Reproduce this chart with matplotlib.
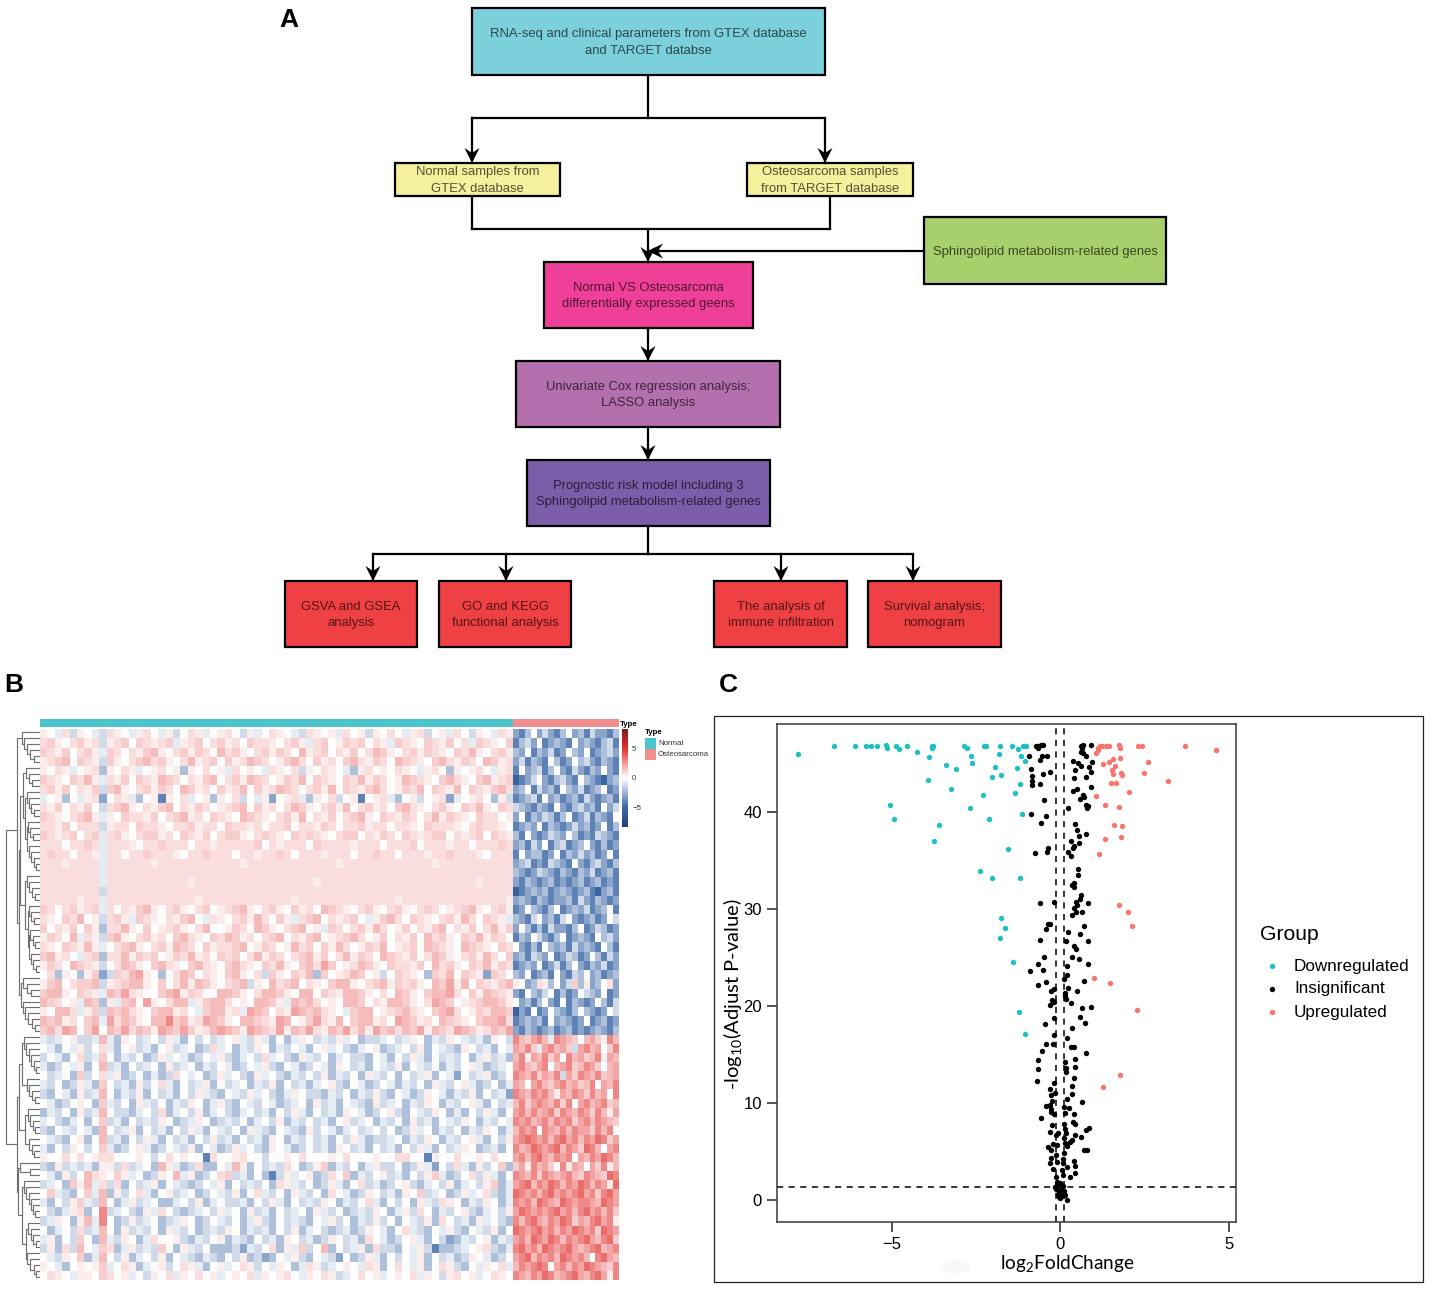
import matplotlib
matplotlib.use("Agg")
import matplotlib.pyplot as plt
import numpy as np
from matplotlib.colors import LinearSegmentedColormap, ListedColormap, Normalize
from matplotlib.patches import Rectangle, Ellipse

plt.rcParams['font.family'] = ['Liberation Sans', 'DejaVu Sans']
plt.rcParams['mathtext.default'] = 'regular'

W, H = 1430, 1289

# flowchart text
top_text = "RNA-seq and clinical parameters from GTEX database\nand TARGET databse"
normal_text = "Normal samples from\nGTEX database"
osteo_text = "Osteosarcoma samples\nfrom TARGET database"
sphingo_text = "Sphingolipid metabolism-related genes"
deg_text = "Normal VS Osteosarcoma\ndifferentially expressed geens"
cox_text = "Univariate Cox regression analysis;\nLASSO analysis"
model_text = "Prognostic risk model including 3\nSphingolipid metabolism-related genes"
gsva_text = "GSVA and GSEA\nanalysis"
go_text = "GO and KEGG\nfunctional analysis"
immune_text = "The analysis of\nimmune infiltration"
surv_text = "Survival analysis;\nnomogram"

# heatmap, each letter is one estimated block of the picture
heat_codes = "abcdefghijklmn"
heat_values = [-5.5, -4.2, -3, -2.1, -1.2, -0.6, 0, 0.4, 0.8, 1.2, 1.7, 2.2, 2.9, 3.6]

normal_rows = [
    "hgfiehgf eihgfhig fhegihfg higehfgi hgfeihgh fighehgi gfhieghf igehgfih",
    "ijhgijhi ehijgjih ijfhijgi jhigjiih gijhfijg hjijgihf jihgjihj gifjihgj",
    "jihjgijh fjigihjk hgijhjig kijhgijh jigkhijg ihjgikjh gijhjihg jikhgijh",
    "hijkgjih ejhgijki jhgikhij gjhikjig hjkigjhi gjkihjig kjihgjki hjigkjhi",
    "hgihfghi dhgihfgh ighdhgig hfighgfi hgiehgih gfdhighg ihgfhigd hghigfhi",
    "jihgjikh fihjgjih kjigihjk gijhkjig hjikgjih gjikhjig hkjihgjk ihgjkhij",
    "ijhjgihj ejkhgijh jigkjhig jhikgjhi kjigijhk gjihjkig hjikgjih kgjihjki",
    "fghdgfhi cgihfdgh bhgifghd hgiegfhc ghifdhgi eghbghif dgheghic fghigdhe",
    "ihjgihjg eijkhgih jkgihjig hijkgjhi gikjhgij hkgijhig jkihgijh gjikhgji",
    "jihgijkh fhgjiihj gijkhigj ihgkjihg ijhkgihj gijkhgji hjigikhj ihgjiigh",
    "iihjgiii ehiigjii hgiijhii gjiihigi ijgiihji giijhiig iihgjiii hgijiihg",
    "jihijgij fijhgijj higjihjg ijjhgiji hgjijihg ijjgihji gjihijjg ihijgjih",
    "iiigiiji fiiihgii jiiigiih iiiiijgi hiiigjii iihiiigi iijgiiih iigiiiji",
    "ijiigiih fiigiiji iihgiiji iigiihii jigiiihi iigiijii giiihiij iiihgiii",
    "iiihiiii fiiiiiih iiiiiiii iiihiiii iiiiiiii hiiiiiii iiiiihii iiiiiiii",
    "iiiiiiii fiiiiiii iiiiiiii iiiiiiii iiiiiiii iiiiiiii iiiiiiii iiiiiiii",
    "iiiiiiii fiiiiiii iiiihiii iiiiiiii iiiiihii iiiiiiii iiiiiiii iiihiiii",
    "iiiiiiii eiiiiiii iiiiiiii iiiiiiii iiiiiiii iiiiiiii iiiiiiii iiiiiiii",
    "iiiiihii fiiiiiii iiiiihii iiiiiiii iihiiiii iiiiiiii hiiiiiii iiiiiiih",
    "jigijhij figihjkh gijhgijg hijkhgij hgjhigkj ihgijhgi jhgijigh ijkhgijh",
    "ihgjikgh eijhfjih gihjkgfi hgijhkig jhfijkgi hijgfhjk igjihgij hkigjihf",
    "jgihjgjh diikhgjg hijhgikg ghjigkjh gijkghfj igijhkig hjgihjkg ihjgikhj",
    "hjigkfih ejkhgijh igjkihgj ikjhigij kgihjkgh ijkighjg ihjgkijh gjikhjig",
    "ihgjihkh fgijkhgi jhkjigjh iijkghji ghkijgjh kighjikg hijgkjih gkjihgji",
    "jkhigfij diikhjij ghjikhig jijgikhj igijkhjg ikhjigkj ihjgikjh gijhkigj",
    "hjigkjih egikjhgj kihgjkih gjkihgji khgjkilj ghikjhgj iihjgkij hgjikhji",
    "gidhgdhj cejiklhg dgikjgih gjkhgiej hgjikdjg hikjgheg jihgdjik gjihcjig",
    "hjkgijjk ehijkkhg jgikhkjh gijkehgk ijkgihgj kkhgijkh jijhgkjl hkgjihjk",
    "jkkhgjih fkjlihgg jklhjigg kkjhgikk jhgkkgji hkkjhgig kjhgjkkl igjhkjih",
    "kjighfkj dhfjkglh gikkfhjk kighgkkj hfkjkigh gkkjgihk kjhgilkj ghijkkjh",
    "hgkkifhj ekjkihgj kkhigfjk khiflkjg ihlkjkih gfjkkghi jkihgjkl ighjikkj",
    "kjkhigjk flikjhgk kmjkhilk jhgkkjih lkghjlih kgjkkhig lkjhigkj ihgjkkli",
    "jkilkgjl gkjlikjh lkjljhik lkjhlkji lhkjlihk jlikhljk ikjlhkji lkjhikjl",
    "fefgheef kfdhgefg ehfdgege fghfehfd gdfhgefe hfgdeefg efhgdfeh gfefdhge",
    "gfdgfheg ifdghefd ghefgdei fgdfehgd fegfdghf gedfghde fgehdgfe dhgefdgf",
    "egfdgief jgdfegde hfgfdegf hedfgeif gedhfegd fgeedgfd gehfdgef egdfhefd",
    "fdegfhdg kefdgefg dhefgdfe gfdegfhe dgfdegfd hgefdgfe hdgfegdf eghfdefg",
    "gefgdjeg ifhdegdf deigfgde hfgedhfg edfegehd fegdhfeg dgefhdgf cgefhdeg",
    "fegdehfd jgefdheg ifdgefhd gefgdfeh dgefdfgh edgfdegf dfegdhfe ghfdegdf",
    "edgfdhef kgdfehdg efdgehfe dgfehfge dfhgeedf egdfehed gfdehgfd fehdgefc",
    "gfdeghgd jfegdhfe gdfehgdf hedgfegf defgdhef dgfedhef gdfehgdf eghfdgef",
    "dfegdhef kgeedfge idfgehdf gedfgefd gehfdgef dhgfdegh edgfehgd fdgehfdg",
    "fgedfgdg jefdgefe hgdefhgd efegdfge hdfegefd ghefgdfe gdhefdgf ehgdfegf",
    "edgfegfd kgefhdge fdgehfdg fegdhfed gfedhegf dfgefgeg dehfgdfe gdfehgdf",
    "gfedghdg kefdgehf dgefdgeh efdgefdh gdfegefd gehfdeef gdfehgdf eghfdgeh",
    "fdgehgeg jfdeghfd egfehdgf dehfgedh gfdegefd hgefdgef dgehfdge fhgdefdg",
    "hggigigh iiggghge gighggbi gghiggeg ghgigggh giggghgg iiggbhgg igghgigg",
    "edhefefd hheiefgd khfdeidd gfkhdgef eigdehjd fegdfhee gdehfcge ifdhegjd",
    "gfdhegki hgjhfgde hgkfhdeg ijefdgdb ehfghdei gjdfeghe fdgehjfd egiehfdg",
    "efgdjhkf ieidgefh dgfedegf hdgefegd ihfegdeh fdgiefde ghedfgeh dfgehjdf",
    "gjfedgjf kdhegifd ghefgdeg fehdgife gdhfegdi gfdehgef dhgjefgd ehfgiedf",
    "fdgehjfe kgdfhefg ddfgehdf geefdgeh fdgefehg dfegifdg egdhfeih gdfehgdf",
    "gedfhidg mefgedhf igedefge hfgdhefd gefgdhfe gdefehgd fheigdfe ghedfgeh",
    "efhgdhkf mgdehefg defhgdeg fegdfhed gefedgfh egdfeheg dgfehdig efdhfged",
    "gdfgeief kgdhefeg dhfegdef ehgdfefd gehdfged efdehgfd gifedgfh edgfehdg",
    "fhdgejgd kfehgdfi gghedfeg hdfedgef dhgefdeh gefdigfd eghfdgec dfeghdfe",
    "ehdiekgf jidfhefe jgdhfegd ddecfegi dhfjegkd gefhdiee dgfhebdd efghiedf",
    "gfehgjdf kgehdfge hdgfedfe dgehdecd gfhedgfe cgdehfdg egfhdgef dehgfdeg",
    "hgfdghgh jfgihdfg hegihfdg hfgihegf hgdfihef ghgfihdg igfhdgih edgfhgif",
    "gihgfhhg jighfgeh gifhgigh fghgifhg higfhgih efgighfg hgifhgeh ighfgihg",
]

tumor_rows = [
    "cbdgce cbdgcd beccbd",
    "bdecgb cdcbgc dcbdeb",
    "dcgbdc ebcgdc gbcdec",
    "cebdcb gdbcgd ecbdcb",
    "bgcdeb dgcbec bdcgcb",
    "abcegc bdecbg dcbacd",
    "cdgbec dbgdce bcdgbc",
    "bcdebg cdbcdb ecbcdb",
    "edcbdc bgcbde cdbgce",
    "cgbdce dbdgbc ebdcbg",
    "bcdcgb dcbcec dbcgbd",
    "dbgcbc edcgdb cbedcb",
    "cdbecg bdebcd gcbdbc",
    "bgcddb cgbdce cdbcgb",
    "cdebcb edcbgc bdecbd",
    "dcbced cbdcbd cebcdb",
    "cbdcbc dbcbcd bcdbcb",
    "abcdcd bcdcbc dbacdb",
    "cdcbdc bccdbe cbdcbc",
    "bcgdcb dgbcdc ebcdgb",
    "dcbegc dbegcb cdbcge",
    "cgdbdb eccbdg bcedbc",
    "bdcgec bdgbcd cbgdec",
    "gcbdbg dcdbec dcbgdb",
    "cdbedc gbcedb cgdbec",
    "bcdcgb cebdgc bdcebc",
    "dcgbcd bgcbed gcdbcd",
    "hgcdih dgcejd hcdgic",
    "cbgdce gbdbcg edcgbc",
    "gcdbdg cbgbdc bcgdbe",
    "acbgbc gdcbdg dcbcge",
    "bcdcdb gcdcbc gbcdbc",
    "cbdcbc dbcdbc bcdcbd",
    "mkjlmk fmlkjg kljhmk",
    "lkmjfl mkljel mklgjm",
    "kmhlkm jlgmkl jkmhlk",
    "lmkjlm gklmjk mljgkl",
    "mlkmjl kmeljm lkmjkl",
    "lkglmk jlmklj kmglkm",
    "mlkmlm khlkml jmklgm",
    "kmjlml kmjmgl mklmjk",
    "lmkmkl mjmlkm ljmkhl",
    "mlmklm kmlmjl mkmlkj",
    "kmlmgm lkmkml ljmkmg",
    "lmnmlm kmnlmk mlnmjl",
    "mklnml mnkmlj nmkglm",
    "lmkmnl kmlmgl kmlnmk",
    "jlhmkl jgmhlk gljmhk",
    "mlkmjm lklmkj mlkjnm",
    "lmnkml nmkmln mkmlhn",
    "nmlmkm nlmlmn lmjmnl",
    "mlmknm lknmlm mlknml",
    "lnmlml mnlmkm nlmkmj",
    "mkmnlk mlnmjl kmnlmh",
    "nmlmnl mkmlnm lmjnml",
    "lmknml nmkmlm nlkmnj",
    "mnlmkn mlmnlk lmnklm",
    "lmnkml mknmlm kgmnlk",
    "kmlmnm glmkml nmlkjm",
    "mlkmln mklmnl kmnlhm",
]

type_names = ["Normal", "Osteosarcoma"]
type_colors = ["#4CC4CC", "#F28E8E"]
top_row_count = 33

# volcano plot
down_x = [-7.77, -6.72, -6.07, -5.76, -5.61, -5.42, -5.17, -5.14, -4.87, -4.79, -4.54, -4.25, -3.90, -3.81, -3.76,
          -3.79, -3.38, -3.08, -3.93, -3.24, -2.84, -2.77, -2.64, -2.61, -2.26, -2.20, -1.78, -1.82, -1.92, -2.03,
          -1.74, -2.29, -1.44, -1.24, -1.15, -1.03, -1.28, -1.18, -1.35, -1.09, -1.02, -5.06, -2.68, -1.13, -4.94,
          -2.12, -3.60, -3.73, -1.55, -2.37, -2.01, -1.18, -1.74, -1.63, -1.78, -1.39, -1.21, -1.04]
down_y = [45.99, 46.85, 46.85, 46.85, 46.85, 46.85, 46.92, 46.65, 46.89, 46.51, 46.85, 46.2, 45.68, 46.85, 46.89,
          46.61, 44.86, 44.44, 43.34, 42.45, 46.89, 46.68, 45.82, 45.06, 46.85, 46.85, 46.85, 46.06, 44.72, 43.69,
          43.86, 41.76, 46.85, 46.51, 45.82, 45.27, 44.58, 42.97, 41.97, 46.85, 46.85, 40.76, 40.42, 39.8, 39.28,
          39.28, 38.7, 37.01, 36.26, 33.95, 33.23, 33.23, 29.14, 28.07, 27.0, 24.6, 19.44, 17.17]

up_x = [1.06, 1.14, 1.17, 1.24, 1.12, 1.36, 1.46, 1.75, 1.77, 1.79, 2.32, 2.42, 3.72, 4.62, 1.27, 1.46, 1.58, 1.64,
        1.54, 1.58, 1.80, 1.83, 2.62, 2.48, 3.20, 1.50, 1.66, 2.05, 1.06, 1.33, 1.74, 1.59, 1.83, 1.34, 1.80, 1.16,
        1.74, 2.03, 2.13, 1.02, 1.48, 2.29, 1.79, 1.26]
up_y = [46.16, 46.44, 46.85, 46.85, 46.65, 46.85, 46.89, 46.92, 46.68, 45.65, 46.89, 46.85, 46.85, 46.47, 45.03,
        45.17, 45.51, 44.82, 44.41, 44.0, 44.03, 43.83, 45.17, 44.03, 43.27, 43.07, 43.07, 42.07, 41.69, 40.8, 40.56,
        38.67, 38.56, 37.29, 37.46, 35.74, 30.48, 29.69, 28.28, 22.91, 22.36, 19.64, 12.9, 11.63]

insig_x = [-0.72, -0.64, -0.57, -0.51, -0.64, -0.92, -0.55, -0.40, -0.59, -0.85, -0.29, -0.82, -0.52, -0.83, -0.84,
           -0.61, -0.49, -0.85, -0.41, -0.56, -0.37, -0.39, -0.73, -0.60, -0.19, -0.35, -0.29, -0.42, -0.60, -0.47,
           0.62, 0.69, 0.91, 0.64, 0.61, 0.67, 0.77, 0.37, 0.54, 0.62, 0.96, 0.87, 0.44, 0.91, 0.41, 0.78, 0.92, 0.38,
           0.50, 0.67, 0.70, 0.58, 0.77, 0.82, 0.81, 0.23, 0.44, 0.50, 0.56, 0.77, 0.31, 0.56, 0.42, 0.37, 0.25, 0.33,
           0.53, 0.53, 0.42, 0.34, 0.40, 0.61, 0.58, 0.82, 0.46, 0.51, 0.42, 0.46, 0.66, 0.36, 0.72, 0.25, 0.60, 0.17,
           0.84, 0.40, 0.46, 0.34, 0.55, 0.82, -0.66, 0.20, -0.51, -0.90, 0.22, 0.12, -0.42, 0.70, -0.64, 0.25, -0.18,
           -0.27, 0.49, 0.15, 0.14, -0.24, 0.17, -0.19, -0.30, 0.32, 0.66, 0.92, 0.59, -0.19, 0.74, -0.45, 0.35, -0.19,
           0.22, -0.41, -0.22, 0.33, 0.40, -0.54, 0.76, 0.43, -0.65, 0.16, 0.44, -0.66, 0.17, 0.19, 0.40, -0.67, -0.18,
           0.35, -0.29, -0.15, -0.27, 0.35, 0.22, -0.23, 0.64, -0.41, -0.30, 0.12, 0.27, -0.27, -0.28, -0.17, 0.15,
           0.40, -0.57, 0.38, 0.43, -0.23, 0.12, 0.86, 0.77, 0.15, -0.30, -0.07, 0.17, 0.45, -0.13, 0.61, 0.12, 0.35,
           0.28, 0.14, -0.20, -0.10, 0.22, -0.36, -0.27, 0.72, 0.79, 0.12, -0.12, -0.26, 0.08, 0.42, -0.29, -0.10, 0.08,
           0.43, 0.22, -0.22, 0.06, 0.44, 0.10, -0.13, 0.29, -0.08, -0.15, 0.0, -0.08, 0.08, -0.02, 0.10, 0.15, 0.0,
           0.21, 0.05, -0.05, 0.08, -0.10, 0.03, -0.03, 0.12, -0.12, 0.06, 0.02]
insig_y = [46.89, 46.89, 46.92, 46.92, 46.61, 45.82, 45.79, 45.85, 45.37, 44.51, 44.2, 43.79, 43.93, 43.24, 42.79,
           42.93, 41.25, 39.83, 39.66, 38.87, 36.29, 35.88, 35.81, 30.65, 30.75, 28.52, 28.45, 27.93, 26.87, 25.04,
           46.89, 46.92, 46.92, 46.61, 46.2, 46.1, 45.82, 45.3, 45.06, 44.79, 45.17, 44.72, 44.34, 44.2, 43.55, 43.62,
           42.66, 42.17, 42.38, 41.83, 41.55, 41.38, 40.76, 40.66, 40.42, 40.45, 38.84, 38.15, 37.56, 37.77, 37.08,
           36.88, 36.57, 36.36, 35.95, 35.47, 34.12, 33.54, 32.71, 32.51, 32.34, 31.44, 31.03, 30.65, 30.72, 30.44,
           30.1, 29.76, 29.76, 29.45, 28.31, 27.66, 27.45, 26.76, 26.69, 26.18, 25.87, 25.04, 24.87, 24.39, 24.39,
           24.18, 23.77, 23.6, 23.25, 22.81, 22.46, 22.6, 22.19, 21.91, 21.81, 21.6, 21.57, 21.4, 21.05, 20.64, 20.74,
           20.4, 20.16, 20.3, 19.85, 19.88, 18.85, 18.78, 18.3, 18.16, 17.78, 16.99, 16.72, 16.1, 16.1, 15.76, 15.76,
           15.41, 15.17, 14.59, 14.41, 14.24, 13.69, 13.55, 13.59, 13.24, 12.59, 12.25, 12.07, 11.76, 11.49, 11.01,
           10.84, 10.94, 10.46, 10.22, 10.15, 9.67, 9.8, 9.56, 9.46, 9.36, 9.05, 8.91, 8.94, 8.91, 8.46, 8.08, 7.84,
           7.77, 7.84, 7.43, 7.19, 7.29, 7.02, 6.88, 6.95, 6.74, 6.67, 6.5, 6.36, 6.19, 6.02, 5.92, 5.74, 5.68, 5.57,
           5.47, 5.16, 5.13, 5.13, 4.85, 4.61, 4.37, 4.2, 3.99, 3.82, 3.96, 3.78, 3.54, 3.44, 3.23, 3.1, 2.75, 2.55,
           2.34, 2.37, 1.89, 1.31, 1.72, 1.2, 1.44, 0.86, 0.96, 0.52, 0.17, 0.0, 0.52, 0.52, 0.76, 1.55, 1.0, 0.3, 0.9,
           1.1, 0.4, 0.6]

group_names = ["Downregulated", "Insignificant", "Upregulated"]
group_colors = ["#1FBFC6", "black", "#F8766D"]


def px_axes(x0, y0, x1, y1):
    return fig.add_axes([x0 / W, 1 - y1 / H, (x1 - x0) / W, (y1 - y0) / H])


def box(x0, y0, x1, y1, color, label):
    base.add_patch(Rectangle((x0, y0), x1 - x0, y1 - y0, fc=color, ec='black', lw=1.6, zorder=2))
    base.text((x0 + x1) / 2, (y0 + y1) / 2 + 1, label, ha='center', va='center', fontsize=9.4,
              color='black', alpha=0.66, linespacing=1.48, zorder=3)


def line(xs, ys):
    base.plot(xs, ys, color='black', lw=1.6, solid_capstyle='projecting', zorder=1)


def arrow(x0, y0, x1, y1):
    # line plus a stealth head, tip on (x1, y1)
    base.plot([x0, x1], [y0, y1], color='black', lw=1.6, zorder=4)
    d = np.array([x1 - x0, y1 - y0], dtype=float)
    d /= np.hypot(*d)
    n = np.array([-d[1], d[0]])
    tip = np.array([x1, y1])
    head = [tip, tip - 15 * d + 7.5 * n, tip - 10 * d, tip - 15 * d - 7.5 * n]
    base.fill(*zip(*head), color='black', lw=0, zorder=4)


def chain(heights):
    node = (heights[-1], 1, 1)
    for h in heights[-2::-1]:
        node = (h, 1, node)
    return node


def draw_tree(ax, node, pos):
    # returns (y position, height, next free leaf)
    if node == 1:
        return pos + 0.5, 0, pos + 1
    h, a, b = node
    ya, ha, pos = draw_tree(ax, a, pos)
    yb, hb, pos = draw_tree(ax, b, pos)
    ax.plot([ha, h, h, hb], [ya, ya, yb, yb], color='#707070', lw=0.85, solid_joinstyle='miter')
    return (ya + yb) / 2, h, pos


def to_matrix(rows):
    return np.array([[heat_values[heat_codes.index(c)] for c in r.replace(' ', '')] for r in rows])


fig = plt.figure(figsize=(W / 100, H / 100), dpi=100, facecolor='white')
base = fig.add_axes([0, 0, 1, 1])
base.set_xlim(0, W)
base.set_ylim(H, 0)
base.axis('off')

# panel A, flowchart
line([648, 648], [75, 118])
line([472, 825], [118, 118])
arrow(472, 118, 472, 163)
arrow(825, 118, 825, 163)
line([472, 472], [196, 229])
line([830, 830], [196, 229])
line([472, 830], [229, 229])
arrow(648, 229, 648, 262)
arrow(924, 251, 648, 251)
arrow(648, 328, 648, 361)
arrow(648, 427, 648, 460)
line([648, 648], [526, 554])
line([373, 913], [554, 554])
for ax_x in (373, 506, 781, 913):
    arrow(ax_x, 554, ax_x, 581)

box(472, 8, 825, 75, '#7CD0DB', top_text)
box(395, 163, 560, 196, '#F4F09C', normal_text)
box(747, 163, 913, 196, '#F4F09C', osteo_text)
box(924, 217, 1166, 284, '#A7D06C', sphingo_text)
box(544, 262, 753, 328, '#EF3F98', deg_text)
box(516, 361, 780, 427, '#B470AE', cox_text)
box(527, 460, 770, 526, '#7B5DA9', model_text)
box(285, 581, 417, 647, '#EF4044', gsva_text)
box(439, 581, 571, 647, '#EF4044', go_text)
box(714, 581, 847, 647, '#EF4044', immune_text)
box(868, 581, 1001, 647, '#EF4044', surv_text)

base.text(289, 20, 'A', fontsize=19, fontweight='bold', ha='center', va='center')
base.text(14, 685, 'B', fontsize=19, fontweight='bold', ha='center', va='center')
base.text(728, 685, 'C', fontsize=19, fontweight='bold', ha='center', va='center')

# panel B, heatmap
heat_cmap = LinearSegmentedColormap.from_list('heat', [(0, '#1F3F7A'), (3.4 / 16.8, '#3F6AA8'), (0.5, '#FFFFFF'),
                                                       (13.4 / 16.8, '#E33532'), (1, '#7F1A1C')])
heat_norm = Normalize(-8.4, 8.4)
normal_m = to_matrix(normal_rows)
tumor_m = to_matrix(tumor_rows)

ax_heat = px_axes(40, 729, 619, 1280)
blocks = [(normal_m[:top_row_count], (0, 473, 306, 0)), (tumor_m[:top_row_count], (473, 579, 306, 0)),
          (normal_m[top_row_count:], (0, 473, 551, 306)), (tumor_m[top_row_count:], (473, 579, 551, 306))]
for m, ext in blocks:
    im = ax_heat.imshow(m, cmap=heat_cmap, norm=heat_norm, extent=ext, aspect='auto', interpolation='nearest')
ax_heat.set_xlim(0, 579)
ax_heat.set_ylim(551, 0)
ax_heat.axis('off')

ax_type = px_axes(40, 719, 619, 727)
ax_type.pcolormesh([0, 473, 579], [0, 1], [[0, 1]], cmap=ListedColormap(type_colors))
ax_type.axis('off')
base.text(620, 724, 'Type', fontsize=5.7, fontweight='bold', va='center')

tree_top = (23, chain([18, 16, 13, 10, 6]),
            (21, (20, (17, chain([14, 11, 8]), (15, chain([13, 11, 9, 6]), (13, chain([12, 10, 7]), chain([11, 9, 6, 4])))),
                  (15, chain([13, 11, 8, 5]), (12, chain([11, 9, 6]), (11, chain([10, 7, 5]), chain([9, 7, 4]))))),
             (19, chain([17, 13, 9]), chain([17, 15, 12, 8, 5]))))
tree_bottom = (23, (21, (18, chain([16, 14, 11, 9, 6, 4]), chain([13, 11, 8, 5])),
                    (15, chain([12, 10, 7, 5]), chain([11, 8, 6]))),
               (22, chain([20, 10]),
                (18, chain([16, 14, 11, 9, 7, 5]), (14, chain([12, 9, 7, 4]), chain([13, 10, 6, 4])))))
ax_tree = px_axes(0, 729, 40, 1280)
draw_tree(ax_tree, (34, tree_top, tree_bottom), 0)
ax_tree.set_xlim(40, 0)
ax_tree.set_ylim(92, 0)
ax_tree.axis('off')

cax = px_axes(622, 729, 628, 827)
cbar = fig.colorbar(im, cax=cax)
cbar.outline.set_visible(False)
cbar.set_ticks([-5, 0, 5])
cbar.ax.tick_params(length=0, labelsize=5.7, pad=3, labelcolor='#333333')

base.text(645, 733, 'Type', fontsize=5.7, fontweight='bold', va='center')
for i, name in enumerate(type_names):
    base.add_patch(Rectangle((645, 738 + 11 * i), 11, 11, fc=type_colors[i], ec='none'))
    base.text(658, 743.5 + 11 * i, name, fontsize=5.7, va='center', color='#333333')

# panel C, volcano
base.add_patch(Rectangle((714, 716), 709, 566, fc='white', ec='#222222', lw=0.9, zorder=0))
base.add_patch(Ellipse((955, 1267), 30, 13, fc='#F8F8F8', ec='none', zorder=1))

ax = px_axes(777.3, 723.7, 1236, 1222)
ax.scatter(down_x, down_y, s=15, color=group_colors[0], linewidths=0, zorder=3)
ax.scatter(insig_x, insig_y, s=15, color=group_colors[1], linewidths=0, zorder=3)
ax.scatter(up_x, up_y, s=15, color=group_colors[2], linewidths=0, zorder=3)
ax.axhline(1.3, color='black', lw=1.1, dashes=(4, 3.6), zorder=2)
ax.axvline(-0.11, color='black', lw=1.1, dashes=(4, 3.6), zorder=2)
ax.axvline(0.11, color='black', lw=1.1, dashes=(4, 3.6), zorder=2)
ax.set_xlim(-8.39, 5.22)
ax.set_ylim(-2.27, 49.15)
ax.set_xticks([-5, 0, 5])
ax.set_yticks([0, 10, 20, 30, 40])
ax.tick_params(length=7, width=1.1, labelsize=12, pad=4, color='#222222')
for s in ax.spines.values():
    s.set_linewidth(1.1)
    s.set_color('#3a3a3a')

base.text(1067, 1264, r'$log_2$FoldChange', fontsize=13.7, family='Lato', ha='center', va='center')
base.text(733, 994, r'-$log_{10}$(Adjust P-value)', fontsize=14.5, family='Lato', rotation=90, ha='center', va='center')

base.text(1260, 934, 'Group', fontsize=15.2, va='center', zorder=5)
for i, name in enumerate(group_names):
    base.scatter([1272], [966 + 23 * i], s=15, color=group_colors[i], linewidths=0, zorder=5)
    base.text(1294, 966 + 23 * i, name, fontsize=12.3, va='center', zorder=5)

fig.savefig('out.png', dpi=100)
